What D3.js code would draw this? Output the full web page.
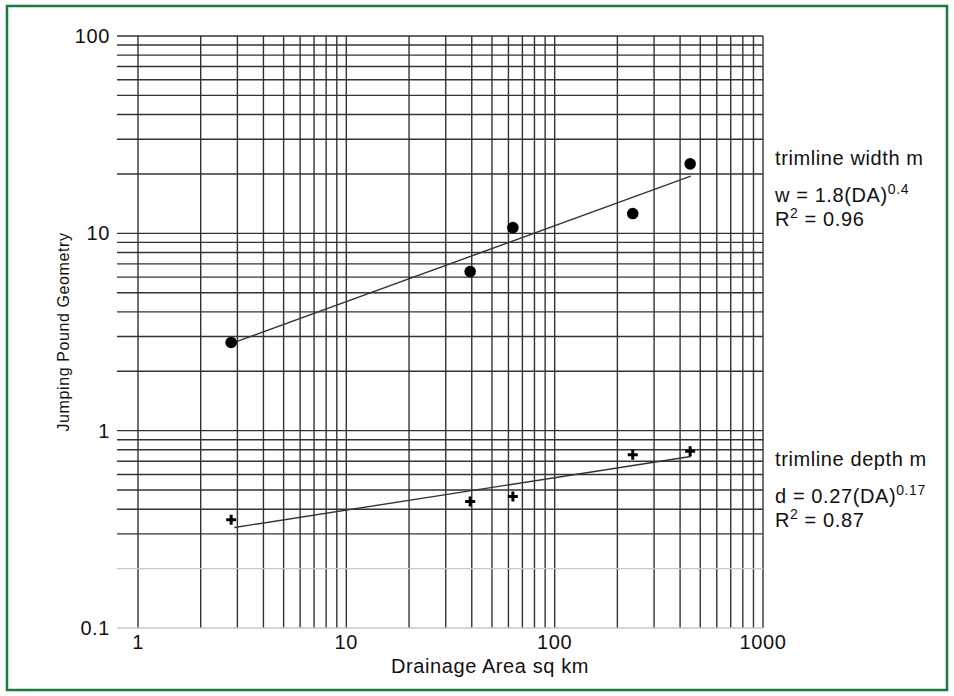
<!DOCTYPE html>
<html>
<head>
<meta charset="UTF-8">
<title>Jumping Pound Geometry</title>
<script src="https://cdn.jsdelivr.net/npm/d3@7"></script>
<style>
  body { margin: 0; background: #fff; }
  text { font-family: "Liberation Sans", Arial, Helvetica, sans-serif; fill: #111; letter-spacing: 0.6px; }
</style>
</head>
<body>
<script>
// drainage area (sq km) for each site
var area = [2.8, 39.3, 63, 237, 447];
// trimline width (m) and depth (m)
var widthM = [2.8, 6.4, 10.7, 12.6, 22.5];
var depthM = [0.354, 0.438, 0.464, 0.755, 0.786];
// fitted lines, end points
var widthFit = [[2.9, 2.8], [450, 19.5]];
var depthFit = [[2.9, 0.323], [450, 0.74]];
var xTicks = [1, 10, 100, 1000];
var yTicks = [0.1, 1, 10, 100];

var W = 954, H = 696;
var svg = d3.select("body").append("svg")
    .attr("width", W)
    .attr("height", H);

// green frame
svg.append("rect")
    .attr("x", 7).attr("y", 6)
    .attr("width", 940).attr("height", 684)
    .attr("fill", "none")
    .attr("stroke", "#1b7a3c")
    .attr("stroke-width", 2.5);

var x = d3.scaleLog().domain([1, 1000]).range([138, 763]);
var y = d3.scaleLog().domain([0.1, 100]).range([628, 36]);

// graph-paper grid
var xGrid = x.ticks(); // 1..9 per decade
var yGrid = y.ticks();

var grid = svg.append("g");
grid.selectAll(".v").data(xGrid).enter().append("line")
    .attr("x1", function(d) { return x(d); })
    .attr("x2", function(d) { return x(d); })
    .attr("y1", y(100))
    .attr("y2", y(0.1))
    .attr("stroke", "#333")
    .attr("stroke-width", 1.4);

grid.selectAll(".h").data(yGrid).enter().append("line")
    .attr("x1", 117)
    .attr("x2", x(1000))
    .attr("y1", function(d) { return y(d); })
    .attr("y2", function(d) { return y(d); })
    .attr("stroke", function(d) { return (d < 0.25) ? "#c8c8c8" : "#333"; })
    .attr("stroke-width", 1.4);

// tick labels
svg.selectAll(".yt").data(yTicks).enter().append("text")
    .attr("x", 110)
    .attr("y", function(d) { return y(d) + 7; })
    .attr("text-anchor", "end")
    .attr("font-size", 20)
    .text(function(d) { return d; });

svg.selectAll(".xt").data(xTicks).enter().append("text")
    .attr("x", function(d) { return x(d); })
    .attr("y", 649)
    .attr("text-anchor", "middle")
    .attr("font-size", 20)
    .text(function(d) { return d; });

// axis titles
svg.append("text")
    .attr("x", 490).attr("y", 673)
    .attr("text-anchor", "middle")
    .attr("font-size", 20)
    .text("Drainage Area sq km");

svg.append("text")
    .attr("transform", "translate(69,332) rotate(-90)")
    .attr("text-anchor", "middle")
    .attr("font-size", 16)
    .text("Jumping Pound Geometry");

// fit lines
var line = d3.line()
    .x(function(d) { return x(d[0]); })
    .y(function(d) { return y(d[1]); });

[widthFit, depthFit].forEach(function(f) {
  svg.append("path")
      .attr("d", line(f))
      .attr("fill", "none")
      .attr("stroke", "#333")
      .attr("stroke-width", 1.4);
});

// width points
svg.selectAll(".dot").data(area).enter().append("circle")
    .attr("cx", function(d) { return x(d); })
    .attr("cy", function(d, i) { return y(widthM[i]); })
    .attr("r", 5.8)
    .attr("fill", "#000");

// depth points (+)
svg.selectAll(".plus").data(area).enter().append("path")
    .attr("transform", function(d, i) { return "translate(" + x(d) + "," + y(depthM[i]) + ")"; })
    .attr("d", "M-5,0H5M0,-5V5")
    .attr("stroke", "#000")
    .attr("stroke-width", 3);

// right-hand annotations
function note(y0, title, lhs, exp, r2) {
  svg.append("text").attr("x", 775).attr("y", y0)
      .attr("font-size", 20).text(title);
  var t = svg.append("text").attr("x", 775).attr("y", y0 + 37).attr("font-size", 20);
  t.append("tspan").text(lhs);
  t.append("tspan").attr("dy", -8).attr("font-size", 14).text(exp);
  var r = svg.append("text").attr("x", 775).attr("y", y0 + 61).attr("font-size", 20);
  r.append("tspan").text("R");
  r.append("tspan").attr("dy", -8).attr("font-size", 14).text("2");
  r.append("tspan").attr("dy", 8).text(" = " + r2);
}
note(165, "trimline width m", "w = 1.8(DA)", "0.4", "0.96");
note(466, "trimline depth m", "d = 0.27(DA)", "0.17", "0.87");
</script>
</body>
</html>
